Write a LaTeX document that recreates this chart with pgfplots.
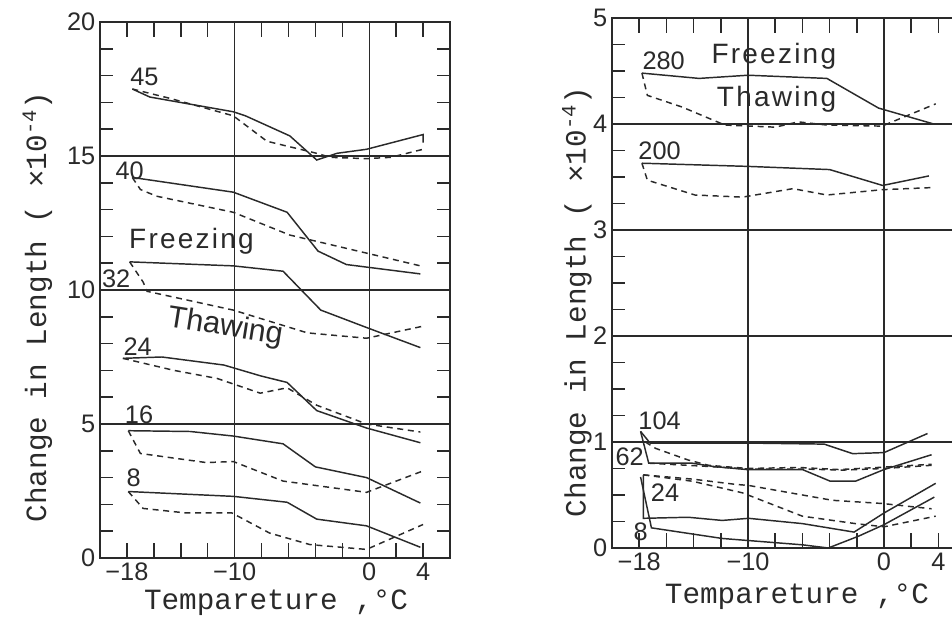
\documentclass[border=0pt]{standalone}
\usepackage{fontspec}
\setmainfont{Liberation Sans}
\newfontfamily\monof{Liberation Mono}
\usepackage{pgfplots}
\pgfplotsset{compat=1.18}
\definecolor{ink}{HTML}{2a2a2a}
\pgfplotsset{
 panel/.style={
  scale only axis, anchor=south west,
  xmin=-20, xmax=6,
  xtick={-18,-16,...,4},
  xticklabels={−18,,,,−10,,,,,0,,4},
  extra x ticks={-10,0}, extra x tick labels={},
  extra x tick style={grid=major, major tick length=0pt,
     major grid style={ink, line width=1.1pt}},
  tick align=inside,
  major tick length=11pt, minor tick length=10pt,
  ymajorgrids,
  /pgf/number format/assume math mode=true,
  axis line style={ink, line width=1.1pt},
  every tick/.style={ink, line width=1.1pt},
  grid style={ink, line width=1.1pt},
  major grid style={ink, line width=1.1pt},
  tick label style={font=\fontsize{19}{19}\selectfont, text=ink},
  label style={font=\monof\fontsize{22}{22}\selectfont, text=ink},
  clip=false,
 },
 fr/.style={ink, line width=1.1pt, no markers},
 th/.style={ink, line width=1.1pt, no markers, dash pattern=on 4.5pt off 3.5pt},
}
\tikzset{
 lab/.style={font=\fontsize{19}{19}\selectfont, text=ink, inner sep=0pt},
 big/.style={font=\fontsize{21}{21}\selectfont\addfontfeature{LetterSpace=8}, text=ink, inner sep=0pt},
 bigr/.style={font=\fontsize{23}{23}\selectfont, text=ink, inner sep=0pt},
}
\begin{document}
\begin{tikzpicture}
\useasboundingbox (0,0) rectangle (714pt,470.25pt);
% ---------------- left panel ----------------
\begin{axis}[panel, at={(75pt,51.75pt)}, width=262.5pt, height=402pt,
  ymin=0, ymax=20, ytick={0,5,...,20}, minor y tick num=4,
  xlabel={Tempareture ,°C},
  ylabel={Change in Length ( ×10\textsuperscript{-4})},
  xlabel style={at={(axis description cs:0.503,-0.084)}, anchor=center},
  ylabel style={at={(axis description cs:-0.179,0.468)}, anchor=center}]
\addplot[fr] coordinates {(-17.6,17.5) (-16.3,17.2) (-10.1,16.65) (-9.2,16.5) (-5.9,15.75) (-3.9,14.85) (-2.4,15.1) (-0.2,15.25) (4,15.8) (4,15.5)};
\addplot[th] coordinates {(-17.6,17.5) (-14.8,17.15) (-10.1,16.5) (-7.6,15.55) (-3.9,15.1) (-2.9,14.95) (-0.2,14.9) (1.6,14.95) (4,15.25)};
\addplot[fr] coordinates {(-17.6,14.2) (-10.1,13.65) (-6.1,12.9) (-3.8,11.45) (-1.7,10.95) (3.8,10.6)};
\addplot[th] coordinates {(-17.6,14.2) (-17.0,13.75) (-15.8,13.5) (-10.1,12.9) (-5.9,12.05) (-0.4,11.4) (3.8,10.9)};
\addplot[fr] coordinates {(-17.8,11.05) (-10.1,10.9) (-6.4,10.7) (-3.6,9.25) (-0.2,8.6) (3.8,7.85)};
\addplot[th] coordinates {(-17.8,11.05) (-16.8,10.3) (-16.5,9.95) (-10.1,9.25) (-4.6,8.4) (-0.2,8.2) (4,8.65)};
\addplot[fr] coordinates {(-18.3,7.45) (-15.4,7.5) (-10.8,7.2) (-8.1,6.8) (-6.1,6.55) (-3.9,5.5) (-0.2,4.85) (3.8,4.3)};
\addplot[th] coordinates {(-18.3,7.45) (-14.5,7.0) (-11.3,6.7) (-8.1,6.15) (-6.1,6.35) (-3.9,5.7) (-0.2,5.0) (3.8,4.7)};
\addplot[fr] coordinates {(-17.9,4.75) (-13.3,4.72) (-10.1,4.55) (-6.4,4.26) (-4.0,3.4) (-0.2,3.0) (3.8,2.05)};
\addplot[th] coordinates {(-17.9,4.75) (-17.0,3.9) (-12.1,3.56) (-10.1,3.6) (-6.4,2.87) (-0.2,2.45) (4,3.25)};
\addplot[fr] coordinates {(-17.9,2.48) (-10.1,2.3) (-6.1,2.08) (-3.9,1.45) (-0.2,1.2) (3.8,0.4)};
\addplot[th] coordinates {(-17.9,2.48) (-16.8,1.85) (-13.6,1.68) (-10.2,1.68) (-7.4,0.93) (-4.4,0.5) (-0.2,0.32) (4,1.25)};
\node[lab] at (axis cs:-16.7,17.95) {45};
\node[lab] at (axis cs:-17.8,14.45) {40};
\node[big] at (axis cs:-13.2,11.8) {Freezing};
\node[lab] at (axis cs:-18.8,10.4) {32};
\node[bigr, rotate=-9] at (axis cs:-10.7,8.6) {Thawing};
\node[lab] at (axis cs:-17.2,7.9) {24};
\node[lab] at (axis cs:-17.1,5.35) {16};
\node[lab] at (axis cs:-17.5,3.0) {8};
\end{axis}
% ---------------- right panel ----------------
\begin{axis}[panel, at={(459pt,59.25pt)}, width=265.2pt, height=397.5pt,
  ymin=0, ymax=5, ytick={0,1,...,5}, minor y tick num=3,
  xlabel={Tempareture ,°C},
  ylabel={Change in Length ( ×10\textsuperscript{-4})},
  xlabel style={at={(axis description cs:0.523,-0.092)}, anchor=center},
  ylabel style={at={(axis description cs:-0.099,0.464)}, anchor=center}]
\addplot[fr] coordinates {(-17.8,4.48) (-13.6,4.43) (-10,4.46) (-4.2,4.43) (-0.4,4.15) (3.65,4.0)};
\addplot[th] coordinates {(-17.8,4.48) (-17.4,4.27) (-14.85,4.16) (-11.7,3.99) (-8.0,3.97) (-6.3,4.02) (-4.2,3.99) (-0.15,3.98) (3.8,4.19)};
\addplot[fr] coordinates {(-17.8,3.63) (-10,3.6) (-4.0,3.57) (-0.1,3.42) (3.3,3.51)};
\addplot[th] coordinates {(-17.8,3.63) (-17.4,3.47) (-13.9,3.33) (-10.4,3.31) (-6.7,3.39) (-4.2,3.33) (-0.15,3.38) (3.5,3.40)};
\addplot[fr] coordinates {(-17.9,1.1) (-17.2,0.99) (-10,0.99) (-4.4,0.98) (-2.3,0.89) (0,0.90) (3.2,1.08)};
\addplot[th] coordinates {(-17.55,1.0) (-16.8,0.94) (-14.4,0.83) (-12.9,0.78) (-10,0.75) (-6.3,0.76) (-3.3,0.74) (-0.4,0.76) (3.5,0.79)};
\addplot[fr] coordinates {(-17.9,1.10) (-17.3,0.80) (-14.1,0.80) (-12.6,0.77) (-10.1,0.74) (-6.0,0.74) (-3.95,0.63) (-2.1,0.63) (0,0.74) (3.5,0.88)};
\addplot[th] coordinates {(-17.3,0.80) (-13,0.77) (-10,0.745) (-6,0.745) (-3,0.735) (0,0.75) (3.5,0.78)};
\addplot[fr] coordinates {(-17.7,0.69) (-17.7,0.28) (-14.4,0.29) (-11.9,0.26) (-9.95,0.28) (-6.0,0.23) (-2.2,0.15) (0,0.33) (3.8,0.61)};
\addplot[th] coordinates {(-17.7,0.69) (-14.1,0.65) (-10.9,0.6) (-9.95,0.59) (-3.8,0.45) (-0.15,0.42) (3.5,0.37)};
\addplot[fr] coordinates {(-17.9,0.67) (-17.1,0.19) (-11.9,0.09) (-6.0,0.03) (-4.1,0.0) (-1.9,0.11) (0,0.22) (3.7,0.48)};
\addplot[th] coordinates {(-17.7,0.69) (-14.1,0.63) (-10.4,0.52) (-6.0,0.30) (-2.1,0.23) (0,0.2) (3.8,0.30)};
\node[lab] at (axis cs:-16.2,4.6) {280};
\node[big] at (axis cs:-8.1,4.64) {Freezing};
\node[big] at (axis cs:-7.9,4.23) {Thawing};
\node[lab] at (axis cs:-16.5,3.75) {200};
\node[lab] at (axis cs:-16.5,1.2) {104};
\node[lab] at (axis cs:-18.7,0.86) {62};
\node[lab] at (axis cs:-16.1,0.52) {24};
\node[lab] at (axis cs:-17.9,0.15) {8};
\end{axis}
\end{tikzpicture}
\end{document}
